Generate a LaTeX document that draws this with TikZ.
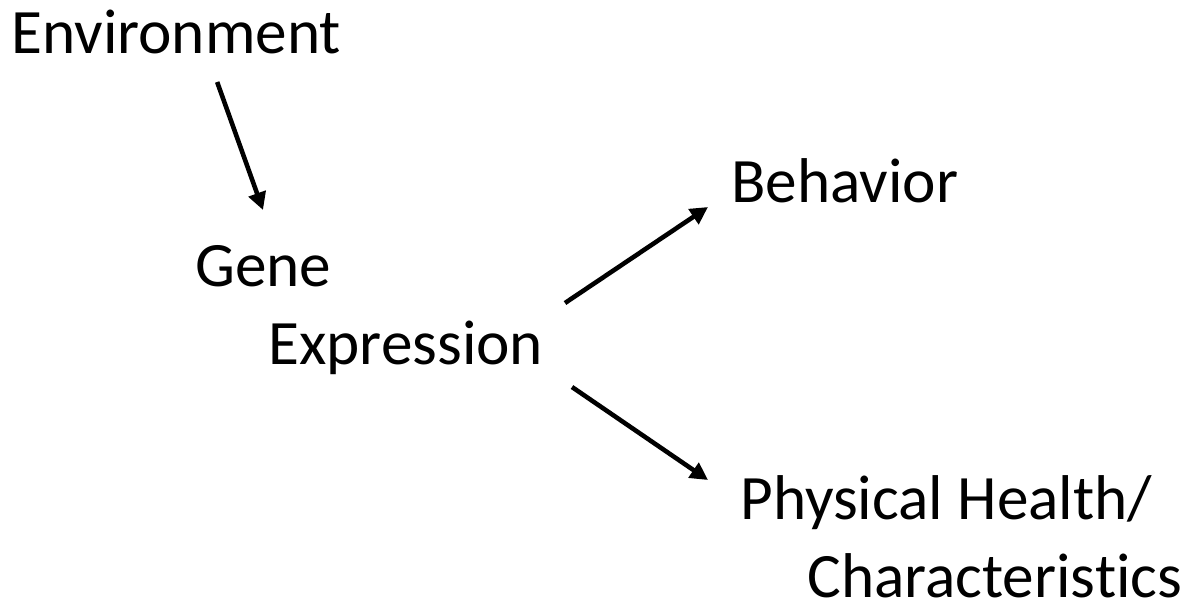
\documentclass[tikz,border=0pt]{standalone}
\usepackage{fontspec}
\setmainfont{Carlito}[Ligatures=NoCommon]
\usepackage{tikz}
\usetikzlibrary{arrows.meta,positioning}

\tikzset{
  lbl/.style={inner sep=0pt,anchor=base west,align=left,
    font=\fontsize{36}{44}\selectfont},
  arr/.style={line width=2.6pt,-{Triangle[length=10pt,width=10pt]}}
}

\begin{document}
\begin{tikzpicture}[x=0.02cm,y=-0.02cm]
\useasboundingbox (0,0) rectangle (1189,606);
% the labels (base = last line)
\node[lbl] (env) at (11,53) {Environment};
\node[lbl] (gene) at (195,364) {Gene\\\hspace*{1.46cm}Expression};
\node[lbl] (behav) at (731,202) {Behavior};
\node[lbl] (phys) at (740,597) {Physical Health/\\\hspace*{1.34cm}Characteristics};
% the arrows
\draw[arr] ([shift={(41,29)}]env.base) -- ([shift={(68,-154)}]gene.base west);
\draw[arr] ([shift={(370,-61)}]gene.base west) -- ([shift={(-23,5)}]behav.base west);
\draw[arr] ([shift={(377,23)}]gene.base west) -- ([shift={(-32,-117)}]phys.base west);
\end{tikzpicture}
\end{document}
